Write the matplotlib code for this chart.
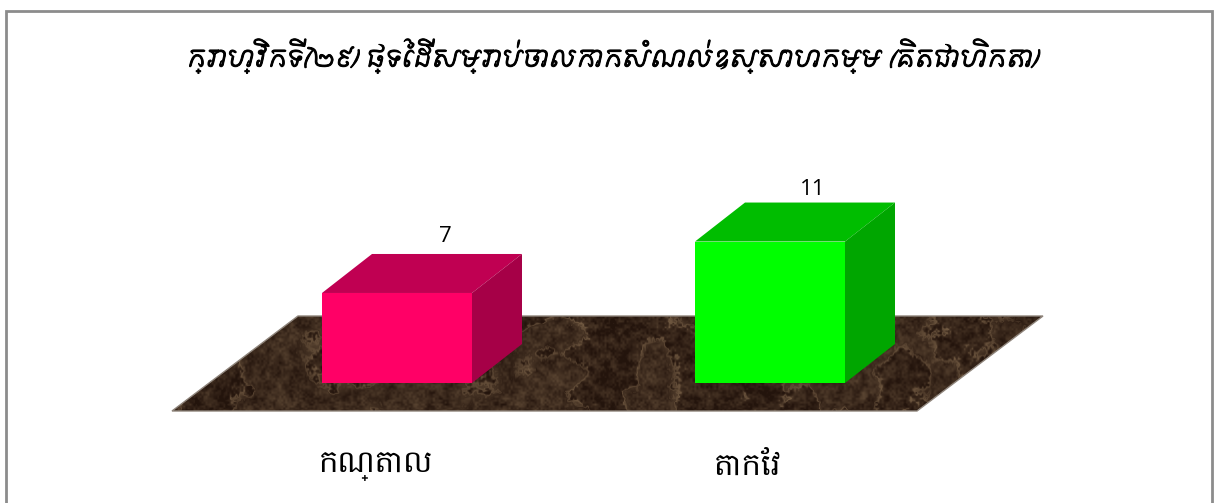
import matplotlib
matplotlib.use('Agg')
import matplotlib.pyplot as plt
import matplotlib.patheffects as pe
from matplotlib.patches import Polygon, Rectangle
import numpy as np

plt.rcParams['font.family'] = ['Hanuman', 'DejaVu Sans']

title = 'ក្រាហ្វិកទី(២៩) ផ្ទៃដីសម្រាប់ចោលកាកសំណល់ឧស្សាហកម្ម (គិតជាហិកតា)'
categories = ['កណ្តាល', 'តាកែវ']
values = [7, 11]
front_colors = ['#ff0066', '#00ff00']
top_colors = ['#c00052', '#00bd00']
side_colors = ['#a60047', '#00a600']

# px per data unit, taken from the front faces of the boxes
xs = 373.0
ys = 12.86
bar_w = 150 / xs
depth_x = 50 / xs
depth_y = 39 / ys
label_dx = [48, 43]
label_dy = [17, 13]
cat_dx = [-21, -23]


def smooth_noise(rng, h, w, step):
    coarse = rng.random((h // step + 2, w // step + 2))
    yi = np.linspace(0, coarse.shape[0] - 1.001, h)
    xi = np.linspace(0, coarse.shape[1] - 1.001, w)
    y0 = yi.astype(int)
    x0 = xi.astype(int)
    wy = (yi - y0)[:, None]
    wx = (xi - x0)[None, :]
    return (coarse[y0][:, x0] * (1 - wy) * (1 - wx) + coarse[y0 + 1][:, x0] * wy * (1 - wx)
            + coarse[y0][:, x0 + 1] * (1 - wy) * wx + coarse[y0 + 1][:, x0 + 1] * wy * wx)


fig = plt.figure(figsize=(12.16, 5.03), dpi=100)
ax = fig.add_axes([0, 0, 1, 1])
ax.set_xlim(-397 / xs, (1216 - 397) / xs)
ax.set_ylim(-(503 - 383) / ys, 383 / ys)
ax.axis('off')

# outer border
fig.add_artist(Rectangle((5.5 / 1216, -0.05), 1206.5 / 1216, 1.05 - 11.5 / 503,
                         transform=fig.transFigure, fill=False,
                         edgecolor='#8c8c8c', linewidth=2))

# floor, marble-ish texture (decoration only)
fx0, fx1, fx2, fx3 = -225 / xs, 520 / xs, 646 / xs, -99 / xs
fy0, fy1 = -28 / ys, 67 / ys
rng = np.random.default_rng(3)
h, w = 95, 871
broad = smooth_noise(rng, h, w, 50) + 0.5 * smooth_noise(rng, h, w, 20)
fine = smooth_noise(rng, h, w, 6) + 0.8 * smooth_noise(rng, h, w, 2)
broad = (broad - broad.mean()) / broad.std()
fine = (fine - fine.mean()) / fine.std()
veins = np.exp(-((broad + 0.15 * fine) * 7) ** 2)
dark = np.array([0.14, 0.08, 0.05])
light = np.array([0.52, 0.42, 0.31])
mix = np.clip(0.2 + 0.09 * fine + 0.05 * broad + 0.38 * veins, 0, 1)[:, :, None]
img = dark * (1 - mix) + light * mix
im = ax.imshow(img, extent=(fx0, fx2, fy0, fy1), aspect='auto', zorder=1)
floor = Polygon([(fx0, fy0), (fx1, fy0), (fx2, fy1), (fx3, fy1)], closed=True,
                facecolor='none', edgecolor='#8f857c', linewidth=1, zorder=2)
ax.add_patch(floor)
im.set_clip_path(floor)

# boxes
for i, v in enumerate(values):
    left = i - bar_w / 2
    right = i + bar_w / 2
    ax.add_patch(Polygon([(left, v), (right, v), (right + depth_x, v + depth_y), (left + depth_x, v + depth_y)],
                         closed=True, facecolor=top_colors[i], edgecolor='none', zorder=3))
    ax.add_patch(Polygon([(right, 0), (right + depth_x, depth_y), (right + depth_x, v + depth_y), (right, v)],
                         closed=True, facecolor=side_colors[i], edgecolor='none', zorder=3))
    ax.bar(i, v, width=bar_w, color=front_colors[i], zorder=4)
    ax.text(i + label_dx[i] / xs, v + depth_y + label_dy[i] / ys, str(v), ha='center', va='center',
            fontsize=16, family='Open Sans', color='black', zorder=5)
    ax.text(i + cat_dx[i] / xs, -83 / ys, categories[i], ha='center', va='center', fontsize=22, color='black', zorder=5)

t = ax.text((612 - 397) / xs, (383 - 58) / ys, title, ha='center', va='center',
            fontsize=16.5, family='Fasthand', color='black', zorder=5)
t.set_path_effects([pe.withStroke(linewidth=0.7, foreground='black')])

fig.savefig('out.png', dpi=100)
